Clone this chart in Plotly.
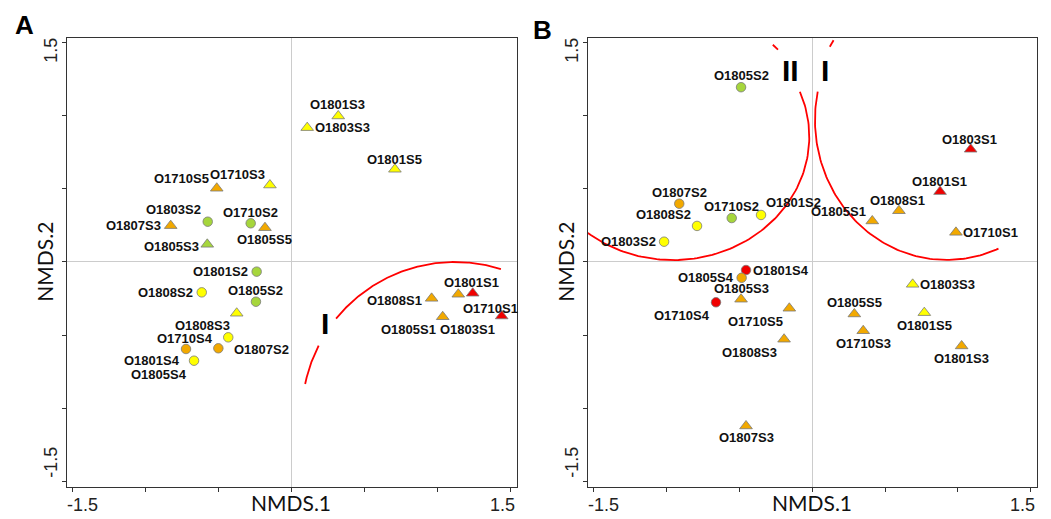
import numpy as np
import plotly.graph_objects as go

# ---------------- NMDS site scores ----------------
# Panel A
samples_a = ["O1801S3", "O1803S3", "O1801S5", "O1710S5", "O1710S3", "O1803S2",
             "O1807S3", "O1710S2", "O1805S5", "O1805S3", "O1801S2", "O1808S2",
             "O1805S2", "O1808S3", "O1807S2", "O1710S4", "O1801S4", "O1805S4",
             "O1808S1", "O1803S1", "O1801S1", "O1805S1", "O1710S1"]
nmds1_a = [0.321, 0.108, 0.710, -0.513, -0.148, -0.575,
           -0.829, -0.280, -0.182, -0.578, -0.239, -0.616,
           -0.244, -0.376, -0.502, -0.724, -0.669, -0.434,
           0.962, 1.145, 1.244, 1.038, 1.443]
nmds2_a = [1.000, 0.920, 0.635, 0.505, 0.527, 0.276,
           0.249, 0.265, 0.235, 0.121, -0.066, -0.208,
           -0.272, -0.351, -0.591, -0.596, -0.676, -0.516,
           -0.249, -0.221, -0.214, -0.375, -0.370]
# colour class of each site (1 = red, 2 = orange, 3 = yellow, 4 = green)
class_a = [3, 3, 3, 2, 3, 4,
           2, 4, 2, 4, 4, 3,
           4, 3, 2, 2, 3, 3,
           2, 2, 1, 2, 1]

# Panel B
samples_b = ["O1805S2", "O1807S2", "O1808S2", "O1710S2", "O1801S2", "O1803S2",
             "O1805S1", "O1808S1", "O1801S1", "O1803S1", "O1710S1", "O1801S4",
             "O1805S4", "O1805S3", "O1710S4", "O1710S5", "O1808S3", "O1807S3",
             "O1803S3", "O1805S5", "O1801S5", "O1710S3", "O1801S3"]
nmds1_b = [-0.488, -0.912, -0.790, -0.552, -0.351, -1.016,
           0.412, 0.595, 0.877, 1.087, 0.986, -0.454,
           -0.484, -0.488, -0.660, -0.157, -0.193, -0.454,
           0.689, 0.289, 0.769, 0.350, 1.025]
nmds2_b = [1.197, 0.399, 0.247, 0.301, 0.322, 0.139,
           0.281, 0.351, 0.482, 0.772, 0.203, -0.055,
           -0.108, -0.255, -0.276, -0.317, -0.529, -1.123,
           -0.153, -0.356, -0.347, -0.471, -0.575]
class_b = [4, 2, 3, 4, 3, 3,
           2, 2, 1, 1, 2, 1,
           2, 2, 1, 2, 2, 2,
           3, 2, 3, 2, 2]

axis_ticks = [-1.5, -1.0, -0.5, 0.0, 0.5, 1.0, 1.5]
axis_end_labels = ["-1.5", "1.5"]

# ---------------- styling ----------------
PALETTE = {1: "#F00000", 2: "#F2A900", 3: "#FFFF00", 4: "#A6D63C"}
W, H = 1051, 519
FRAME_A = (66.7, 516.7)      # left / right pixel edge of plot A
FRAME_B = (587.7, 1037.0)    # left / right pixel edge of plot B
FRAME_TOP, FRAME_BOTTOM = 38.0, 487.0
XR_A = [-1.543, 1.546]
XR_B = [-1.540, 1.542]
YR = [-1.541, 1.534]

LABEL_FONT = dict(family="Liberation Sans", size=13, color="#111111", weight="bold")
TICK_FONT = dict(family="Liberation Sans", size=18, color="#222222")
TITLE_FONT = dict(family="Lato", size=21, color="#111111")

# pixel offset (dx, dy; dy downwards) of each site label from its marker
LABEL_OFFSET_A = {
    "O1801S3": (-1, -11), "O1803S3": (35, 0), "O1801S5": (0, -10),
    "O1710S5": (-35, -10), "O1710S3": (-32, -11), "O1803S2": (-34, -12),
    "O1807S3": (-37, 0), "O1710S2": (0, -11), "O1805S5": (0, 12),
    "O1805S3": (-36, 2), "O1801S2": (-36, 0), "O1808S2": (-36, 0),
    "O1805S2": (0, -11), "O1808S3": (-34, 12), "O1807S2": (43, 1),
    "O1710S4": (-1, -11), "O1801S4": (-42, 0), "O1805S4": (-69, 37),
    "O1808S1": (-37, 2), "O1803S1": (9, 35), "O1801S1": (-1, -11),
    "O1805S1": (-34, 13), "O1710S1": (-11, -8),
}
LABEL_OFFSET_B = {
    "O1805S2": (0, -12), "O1807S2": (0, -11), "O1808S2": (-34, -11),
    "O1710S2": (0, -12), "O1801S2": (32, -12), "O1803S2": (-36, 0),
    "O1805S1": (-34, -9), "O1808S1": (-1, -10), "O1801S1": (-1, -10),
    "O1803S1": (-1, -10), "O1710S1": (35, 0), "O1801S4": (35, 0),
    "O1805S4": (-36, 0), "O1805S3": (0, -11), "O1710S4": (-34, 13),
    "O1710S5": (-34, 13), "O1808S3": (-35, 13), "O1807S3": (0, 12),
    "O1803S3": (35, 0), "O1805S5": (0, -11), "O1801S5": (0, 13),
    "O1710S3": (0, 13), "O1801S3": (0, 13),
}

# group outlines: elliptical arcs (cx, cy, rx, ry, start deg, end deg)
ARCS_A = [
    (1.122, -1.048, 1.050, 1.048, 72.5, 141.0),
    (1.122, -1.048, 1.050, 1.048, 153.0, 168.3),
]
ARCS_B = [
    (-0.955, 0.858, 0.935, 0.845, -135.0, 21.4),
    (-0.955, 0.858, 0.977, 0.883, 42.5, 45.5),
    (0.922, 0.973, 0.903, 0.959, 168.3, 293.2),
    (0.922, 0.973, 0.930, 0.988, 146.5, 149.5),
]


def px(xp, yp):
    return xp / W, 1 - yp / H


def symbol_for(name):
    return "circle" if name[-1] in "24" else "triangle-up"


fig = go.Figure()
annotations = []


def add_panel(suffix, samples, xs, ys, classes, offsets, arcs):
    xref, yref = "x" + suffix, "y" + suffix
    for cx, cy, rx, ry, t0, t1 in arcs:
        t = np.radians(np.linspace(t0, t1, 120))
        fig.add_trace(go.Scatter(
            x=cx + rx * np.cos(t), y=cy + ry * np.sin(t), mode="lines",
            line=dict(color="#FF0000", width=1.8), hoverinfo="skip",
            showlegend=False, xaxis=xref, yaxis=yref))
    fig.add_trace(go.Scatter(
        x=xs, y=ys, mode="markers", text=samples, hoverinfo="text",
        marker=dict(
            color=[PALETTE[c] for c in classes],
            symbol=[symbol_for(s) for s in samples],
            size=[9.5 if symbol_for(s) == "circle" else 11 for s in samples],
            opacity=1,
            line=dict(color="#7a7a7a", width=0.8)),
        showlegend=False, xaxis=xref, yaxis=yref, cliponaxis=False))
    for s, x, y in zip(samples, xs, ys):
        dx, dy = offsets[s]
        annotations.append(dict(
            x=x, y=y, xref=xref, yref=yref, text=s, showarrow=False,
            xshift=dx, yshift=-dy, font=LABEL_FONT,
            xanchor="center", yanchor="middle"))


add_panel("", samples_a, nmds1_a, nmds2_a, class_a, LABEL_OFFSET_A, ARCS_A)
add_panel("2", samples_b, nmds1_b, nmds2_b, class_b, LABEL_OFFSET_B, ARCS_B)

axis_style = dict(
    tickmode="array", tickvals=axis_ticks, showticklabels=False,
    ticks="outside", ticklen=4, tickwidth=1, tickcolor="#333333",
    showline=True, mirror=True, linecolor="#333333", linewidth=1.3,
    showgrid=False, zeroline=True, zerolinecolor="#cccccc", zerolinewidth=1,
    fixedrange=True)

y_dom = [1 - FRAME_BOTTOM / H, 1 - FRAME_TOP / H]
fig.update_layout(
    width=W, height=H, autosize=False,
    margin=dict(l=0, r=0, t=0, b=0, pad=0),
    paper_bgcolor="white", plot_bgcolor="white",
    xaxis=dict(domain=[FRAME_A[0] / W, FRAME_A[1] / W], range=XR_A,
               anchor="y", **axis_style),
    yaxis=dict(domain=y_dom, range=YR, anchor="x", **axis_style),
    xaxis2=dict(domain=[FRAME_B[0] / W, FRAME_B[1] / W], range=XR_B,
                anchor="y2", **axis_style),
    yaxis2=dict(domain=y_dom, range=YR, anchor="x2", **axis_style),
)

# axis end labels, titles, panel letters and group numerals
for xref, yref, left in (("x", "y", FRAME_A[0]), ("x2", "y2", FRAME_B[0])):
    for val, lab, shift in ((axis_ticks[0], axis_end_labels[0], 10),
                            (axis_ticks[-1], axis_end_labels[1], -8)):
        annotations.append(dict(x=val, y=1 - 505 / H, xref=xref, yref="paper",
                                text=lab, showarrow=False, xshift=shift,
                                font=TICK_FONT, xanchor="center", yanchor="middle"))
    for val, lab, shift in ((axis_ticks[0], axis_end_labels[0], 19),
                            (axis_ticks[-1], axis_end_labels[1], -7)):
        annotations.append(dict(x=(left - 16) / W, y=val, xref="paper", yref=yref,
                                text=lab, showarrow=False, yshift=shift,
                                textangle=-90, font=TICK_FONT,
                                xanchor="center", yanchor="middle"))
    annotations.append(dict(x=0, y=1 - 502 / H, xref=xref, yref="paper",
                            text="NMDS.1", showarrow=False, font=TITLE_FONT,
                            xanchor="center", yanchor="middle"))
    annotations.append(dict(x=(left - 22) / W, y=0, xref="paper", yref=yref,
                            text="NMDS.2", showarrow=False, textangle=-90,
                            font=TITLE_FONT, xanchor="center", yanchor="middle"))

LETTER_FONT = dict(family="Liberation Sans", size=26, color="#000000", weight="bold")
NUMERAL_FONT = dict(family="Liberation Sans", size=30, color="#000000", weight="bold")
for text, (xp, yp), font in (("A", (24, 25), LETTER_FONT),
                             ("B", (542, 30), LETTER_FONT),
                             ("I", (325, 323), NUMERAL_FONT),
                             ("II", (790, 70), NUMERAL_FONT),
                             ("I", (825.3, 70), NUMERAL_FONT)):
    x, y = px(xp, yp)
    annotations.append(dict(x=x, y=y, xref="paper", yref="paper", text=text,
                            showarrow=False, font=font,
                            xanchor="center", yanchor="middle"))

fig.update_layout(annotations=annotations)
fig.write_html("out.html")
